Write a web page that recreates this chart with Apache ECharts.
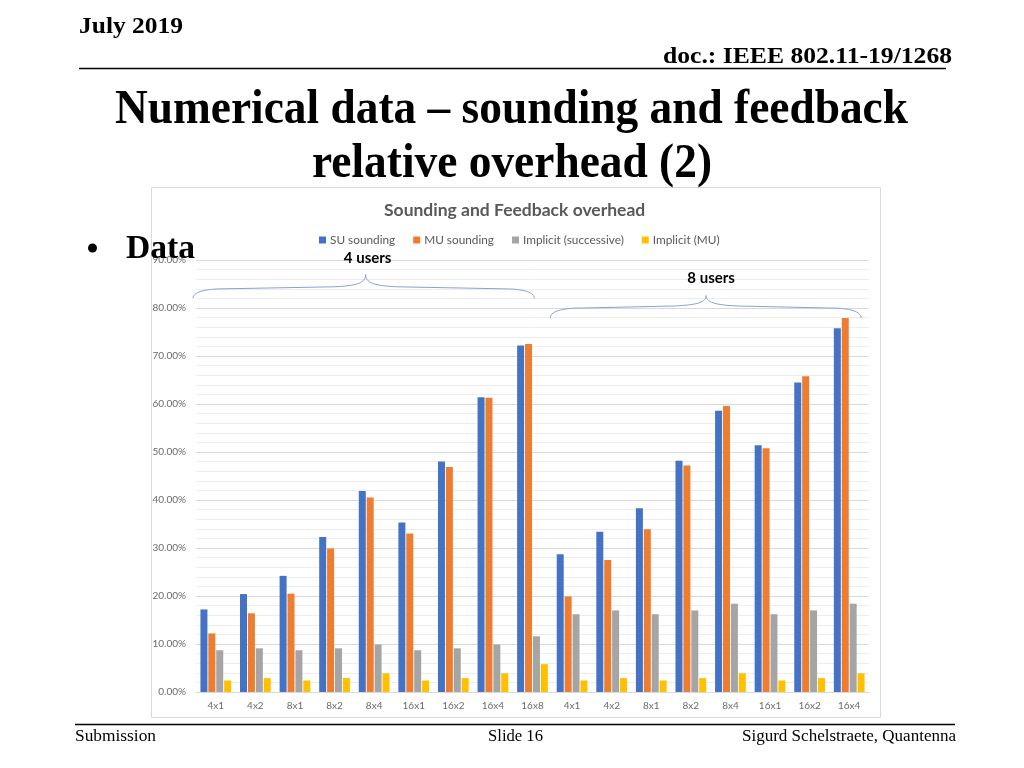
<!DOCTYPE html>
<html>
<head>
<meta charset="utf-8">
<script src="https://cdn.jsdelivr.net/npm/echarts@6/dist/echarts.min.js"></script>
<style>
  html, body { margin: 0; padding: 0; background: #ffffff; }
  #main { width: 1024px; height: 768px; }
</style>
</head>
<body>
<div id="main"></div>
<script>
// ---- data ----
const categories = ['4x1','4x2','8x1','8x2','8x4','16x1','16x2','16x4','16x8',
                    '4x1','4x2','8x1','8x2','8x4','16x1','16x2','16x4'];
const seriesNames = ['SU sounding', 'MU sounding', 'Implicit (successive)', 'Implicit (MU)'];
const suSounding       = [17.2, 20.4, 24.2, 32.3, 41.9, 35.3, 48.0, 61.4, 72.2, 28.7, 33.4, 38.3, 48.2, 58.6, 51.4, 64.5, 75.8];
const muSounding       = [12.2, 16.4, 20.5, 29.9, 40.5, 33.0, 46.9, 61.3, 72.5, 19.9, 27.5, 33.9, 47.2, 59.6, 50.8, 65.8, 77.9];
const implicitSucc     = [8.7, 9.1, 8.7, 9.1, 9.9, 8.7, 9.1, 9.9, 11.6, 16.2, 17.0, 16.2, 17.0, 18.4, 16.2, 17.0, 18.4];
const implicitMU       = [2.4, 2.9, 2.4, 2.9, 3.9, 2.4, 2.9, 3.9, 5.8, 2.4, 2.9, 2.4, 2.9, 3.9, 2.4, 2.9, 3.9];
const groups = [
  { label: '4 users', from: 0, to: 8 },
  { label: '8 users', from: 9, to: 16 }
];
const colors = ['#4472C4', '#ED7D31', '#A5A5A5', '#FFC000'];
</script>
<script>
const chart = echarts.init(document.getElementById('main'), null, { renderer: 'canvas' });
const chartFont = 'Lato, "Open Sans", sans-serif';
const serif = '"Liberation Serif", "DejaVu Serif", serif';

const measureCtx = document.createElement('canvas').getContext('2d');
function fitScale(text, weight, size, family, target) {
  measureCtx.font = weight + ' ' + size + 'px ' + family;
  return target / measureCtx.measureText(text).width;
}
function slideText(text, x, y, size, weight, align, targetW) {
  const sx = targetW ? fitScale(text, weight, size, serif, targetW) : 1;
  return {
    type: 'text', x: x, y: y, scaleX: sx, z: 100,
    style: { text: text, fontSize: size, fontWeight: weight, fontFamily: serif,
             fill: '#000', align: align, verticalAlign: 'middle' }
  };
}

const allData = [suSounding, muSounding, implicitSucc, implicitMU];

const option = {
  animation: false,
  backgroundColor: '#ffffff',
  color: colors,
  title: {
    text: 'Sounding and Feedback overhead',
    left: 379, top: 196,
    textStyle: { fontFamily: chartFont, fontSize: 17.5, fontWeight: 'bold', color: '#595959' }
  },
  legend: {
    data: seriesNames,
    left: 314, top: 229,
    itemWidth: 7, itemHeight: 7, itemGap: 18,
    icon: 'rect',
    textStyle: { fontFamily: chartFont, fontSize: 11.8, color: '#595959', padding: [0, 0, 0, -1] }
  },
  grid: { left: 196, top: 260, width: 673, height: 432, containLabel: false },
  xAxis: {
    type: 'category',
    data: categories.map((c, i) => c + '#' + i),
    axisLine: { show: true, lineStyle: { color: '#d9d9d9', width: 1 } },
    axisTick: { show: false },
    axisLabel: {
      fontFamily: chartFont, fontSize: 10, color: '#6b6b6b', margin: 9, interval: 0,
      formatter: v => v.split('#')[0]
    },
    splitLine: { show: false }
  },
  yAxis: {
    type: 'value', min: 0, max: 90, interval: 10,
    axisLine: { show: false }, axisTick: { show: false },
    axisLabel: { fontFamily: chartFont, fontSize: 10, color: '#6b6b6b', margin: 10,
                 formatter: v => v.toFixed(2) + '%' },
    splitLine: { lineStyle: { color: '#d9d9d9', width: 1 } },
    minorTick: { show: false, splitNumber: 5 },
    minorSplitLine: { show: true, lineStyle: { color: '#ededed', width: 1 } }
  },
  series: seriesNames.map((name, i) => ({
    name: name, type: 'bar', data: allData[i],
    barWidth: 7, barGap: '13%',
    itemStyle: { color: colors[i] }
  })),
  graphic: []
};
chart.setOption(option);

// Layout-dependent annotations (braces) computed from the axis scale
function catEdge(idx, side) {
  const c = chart.convertToPixel({ xAxisIndex: 0 }, idx);
  const c2 = chart.convertToPixel({ xAxisIndex: 0 }, idx === 0 ? 1 : idx - 1);
  const band = Math.abs(c2 - c);
  return c + side * band / 2;
}
const braceStyle = { fill: null, stroke: '#8e9fd6', lineWidth: 1 };
function bez(p0, c1, c2, p1) {
  return { type: 'bezierCurve', z: 50,
           shape: { x1: p0[0], y1: p0[1], cpx1: c1[0], cpy1: c1[1], cpx2: c2[0], cpy2: c2[1], x2: p1[0], y2: p1[1] },
           style: braceStyle };
}
function seg(p0, p1) {
  return { type: 'line', z: 50, shape: { x1: p0[0], y1: p0[1], x2: p1[0], y2: p1[1] }, style: braceStyle };
}
function brace(x0, x1, xm, yEnd, yFlat, yPeak) {
  const r = 32;
  return [
    bez([x0, yEnd], [x0, yFlat + 2], [x0 + r * 0.5, yFlat], [x0 + r, yFlat]),
    seg([x0 + r, yFlat], [xm - r, yFlat - 2]),
    bez([xm - r, yFlat - 2], [xm - 8, yFlat - 3], [xm, yFlat - 6], [xm, yPeak]),
    bez([xm, yPeak], [xm, yFlat - 6], [xm + 8, yFlat - 3], [xm + r, yFlat - 2]),
    seg([xm + r, yFlat - 2], [x1 - r, yFlat]),
    bez([x1 - r, yFlat], [x1 - r * 0.5, yFlat], [x1, yFlat + 2], [x1, yEnd])
  ];
}
const yPx = v => chart.convertToPixel({ yAxisIndex: 0 }, v);

let g = [];
// chart image frame
g.push({ type: 'rect', z: -10, shape: { x: 151.5, y: 187.5, width: 729, height: 530 },
         style: { fill: '#ffffff', stroke: '#d9d9d9', lineWidth: 1 } });

// braces
const b1x0 = catEdge(groups[0].from, -1) - 3, b1x1 = catEdge(groups[0].to, 1) - 18;
const b1m = (b1x0 + b1x1) / 2 + 2;
g = g.concat(brace(b1x0, b1x1, b1m, yPx(82.0), yPx(84.0), yPx(87.0)));
g.push({ type: 'text', z: 50, x: b1m + 2, y: yPx(90.4),
         style: { text: groups[0].label, fontFamily: chartFont, fontSize: 15, fontWeight: 'bold', fill: '#000',
                  align: 'center', verticalAlign: 'middle' } });
const b2x0 = catEdge(groups[1].from, -1) - 2, b2x1 = catEdge(groups[1].to, 1) - 8;
const b2m = (b2x0 + b2x1) / 2 + 0.5;
g = g.concat(brace(b2x0, b2x1, b2m, yPx(77.9), yPx(80.0), yPx(82.6)));
g.push({ type: 'text', z: 50, x: b2m + 5, y: yPx(86.2),
         style: { text: groups[1].label, fontFamily: chartFont, fontSize: 15, fontWeight: 'bold', fill: '#000',
                  align: 'center', verticalAlign: 'middle' } });

// slide header
g.push(slideText('July 2019', 79, 27, 24, 'bold', 'left', 104));
g.push(slideText('doc.: IEEE 802.11-19/1268', 952, 57, 24, 'bold', 'right', 289));
g.push({ type: 'line', z: 100, shape: { x1: 79, y1: 68.5, x2: 946, y2: 68.5 }, style: { stroke: '#000', lineWidth: 1.5 } });
// slide title
g.push(slideText('Numerical data \u2013 sounding and feedback', 511.5, 111, 48, 'bold', 'center', 793));
g.push(slideText('relative overhead (2)', 512, 165, 48, 'bold', 'center', 400));
// bullet
g.push({ type: 'circle', z: 100, shape: { cx: 92.5, cy: 248, r: 4.5 }, style: { fill: '#000' } });
g.push(slideText('Data', 126, 249, 33, 'bold', 'left', 69));
// footer
g.push({ type: 'line', z: 100, shape: { x1: 75, y1: 724.5, x2: 955, y2: 724.5 }, style: { stroke: '#000', lineWidth: 1.5 } });
g.push(slideText('Submission', 75, 737, 16, 'normal', 'left', 81));
g.push(slideText('Slide 16', 515.5, 737, 16, 'normal', 'center', 55));
g.push(slideText('Sigurd Schelstraete, Quantenna', 956, 737, 16, 'normal', 'right', 214));

chart.setOption({ graphic: g });
</script>
</body>
</html>
